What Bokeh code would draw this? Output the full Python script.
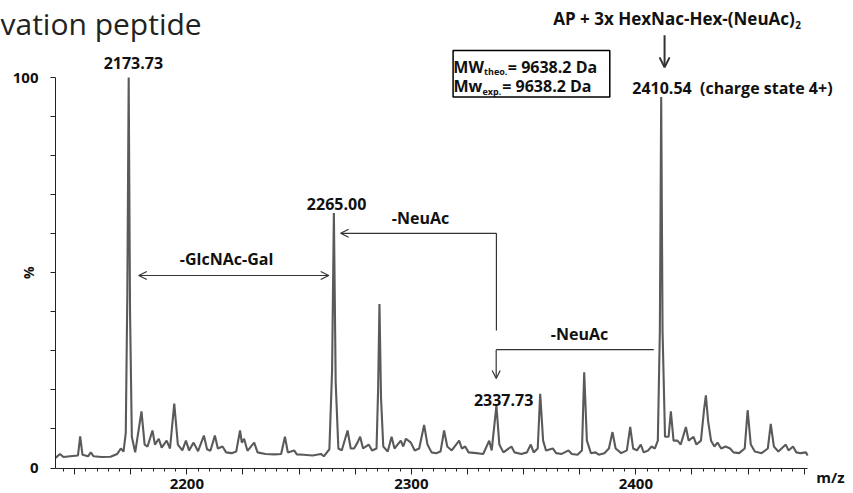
from bokeh.plotting import figure
from bokeh.models import (Range1d, FixedTicker, Arrow, OpenHead, BoxAnnotation,
                          ColumnDataSource)
from bokeh.core.properties import value
from bokeh.embed import file_html
from bokeh.resources import INLINE

# ---------------- data ----------------
mz = [
    2141.5, 2143.5, 2145.0, 2148.0, 2151.5, 2152.5, 2153.5, 2156.0, 2157.2, 2158.5,
    2162.0, 2166.0, 2169.0, 2170.6, 2171.8, 2172.8, 2173.5, 2174.1, 2174.7, 2175.5,
    2177.0, 2179.8, 2181.2, 2182.5, 2184.7, 2185.8, 2187.5, 2188.8, 2191.0, 2192.5,
    2194.4, 2196.0, 2198.0, 2199.6, 2201.0, 2203.0, 2205.0, 2207.6, 2209.0, 2210.5,
    2212.5, 2213.8, 2215.9, 2217.5, 2220.0, 2222.0, 2223.7, 2224.5, 2225.5, 2227.0,
    2230.0, 2231.5, 2235.0, 2239.0, 2242.0, 2243.7, 2245.0, 2247.8, 2249.0, 2252.0,
    2256.0, 2259.7, 2261.0, 2263.5, 2264.7, 2265.5, 2266.3, 2267.5, 2269.0, 2271.6,
    2273.0, 2274.5, 2276.0, 2277.2, 2278.5, 2281.0, 2282.5, 2284.5, 2285.2, 2285.8,
    2286.5, 2287.5, 2289.5, 2291.2, 2292.5, 2295.3, 2296.4, 2297.6, 2299.8, 2301.5,
    2303.5, 2305.7, 2307.2, 2309.0, 2311.0, 2313.0, 2314.6, 2316.0, 2318.0, 2321.3,
    2322.5, 2324.0, 2325.5, 2329.0, 2332.0, 2334.7, 2335.8, 2337.9, 2339.2, 2341.0,
    2344.6, 2346.0, 2349.0, 2351.5, 2353.2, 2354.5, 2356.3, 2357.4, 2358.7, 2360.0,
    2363.0, 2364.5, 2367.0, 2370.0, 2371.5, 2374.0, 2376.0, 2377.0, 2378.2, 2380.0,
    2382.0, 2383.5, 2386.0, 2388.0, 2389.6, 2391.0, 2393.5, 2396.0, 2397.5, 2398.8,
    2400.5, 2402.2, 2403.5, 2405.5, 2407.0, 2408.5, 2409.8, 2410.7, 2411.3, 2411.9,
    2413.0, 2414.6, 2415.6, 2416.8, 2418.6, 2420.0, 2422.3, 2423.5, 2425.7, 2427.0,
    2429.0, 2430.4, 2431.2, 2432.2, 2433.5, 2435.0, 2436.4, 2438.0, 2440.0, 2442.0,
    2443.5, 2446.0, 2448.5, 2449.8, 2451.2, 2453.0, 2456.0, 2458.8, 2460.1, 2461.5,
    2463.5, 2466.8, 2468.0, 2470.0, 2471.5, 2473.5, 2475.8, 2476.5,
]
intensity = [
    2.6, 3.6, 2.8, 3.0, 3.2, 8.1, 3.4, 3.0, 4.0, 3.0,
    2.8, 2.9, 3.6, 5.0, 4.2, 9.0, 45.0, 100.0, 40.0, 8.0,
    4.0, 14.5, 6.0, 5.5, 9.6, 6.0, 7.5, 5.2, 7.0, 5.0,
    16.5, 6.0, 4.5, 7.0, 4.5, 6.5, 4.3, 8.3, 4.8, 4.4,
    8.3, 5.0, 5.5, 4.0, 3.8, 4.2, 9.6, 6.5, 7.5, 4.4,
    6.5, 4.0, 3.6, 3.5, 3.6, 8.0, 4.0, 4.5, 3.5, 3.4,
    3.2, 3.6, 3.0, 4.8, 25.0, 65.3, 22.0, 5.0, 4.5, 9.6,
    5.0, 5.0, 6.5, 8.0, 5.0, 6.0, 4.5, 5.0, 20.0, 42.0,
    18.0, 5.5, 4.2, 8.0, 5.0, 7.0, 5.5, 7.5, 6.5, 4.5,
    5.0, 11.0, 6.0, 4.0, 3.8, 4.2, 9.6, 5.5, 4.5, 7.0,
    5.0, 5.5, 4.0, 3.8, 3.6, 7.0, 4.5, 16.0, 6.0, 4.0,
    5.5, 4.0, 3.6, 4.0, 6.0, 4.0, 5.0, 19.0, 7.0, 4.5,
    5.0, 3.8, 3.6, 4.5, 3.6, 3.4, 4.5, 24.5, 7.0, 3.8,
    4.0, 3.4, 3.8, 5.0, 9.2, 5.0, 3.8, 4.5, 10.5, 5.0,
    4.5, 6.0, 4.0, 4.5, 5.5, 5.0, 7.0, 35.0, 95.0, 35.0,
    8.0, 8.0, 14.5, 7.0, 7.0, 6.0, 10.5, 7.0, 8.0, 6.0,
    7.0, 15.0, 18.6, 12.0, 7.0, 5.5, 6.5, 5.0, 5.5, 5.0,
    4.0, 3.8, 5.0, 14.8, 6.0, 4.2, 3.8, 5.0, 11.3, 5.5,
    4.2, 6.0, 4.5, 5.5, 4.0, 3.8, 4.0, 3.2,
]

peak_labels = ["2173.73", "2265.00", "2337.73"]
peak_label_mz = [2176.2, 2266.7, 2341.1]
peak_label_int = [103.6, 67.7, 17.3]

x_major_ticks = list(range(2150, 2476, 25))
x_minor_ticks = list(range(2145, 2477, 5))
x_tick_labels = {2200: "2200", 2300: "2300", 2400: "2400"}
y_ticks = list(range(0, 101, 10))
y_tick_labels = {0: "0", 100: "100"}

FONT = "Open Sans"
INK = "#111111"

# ---------------- figure ----------------
# the frame fills the whole canvas; the axes are pinned inside it
p = figure(width=853, height=493, output_backend="svg", toolbar_location=None,
           x_range=Range1d(2141.5 - 55 / 2.245, 2141.5 + 798 / 2.245),
           y_range=Range1d(-25.5 / 3.905, 467.5 / 3.905),
           min_border=0, min_border_left=0, min_border_right=0,
           min_border_top=0, min_border_bottom=0)
p.outline_line_color = None
p.grid.visible = False
p.background_fill_color = "white"
p.border_fill_color = "white"

# spectrum
p.line(mz, intensity, line_color="#5a5a5a", line_width=2.1)

# axes
xa = p.xaxis[0]
xa.fixed_location = 0
xa.ticker = FixedTicker(ticks=x_major_ticks, minor_ticks=x_minor_ticks)
xa.major_label_overrides = {t: x_tick_labels.get(t, "") for t in x_major_ticks}
xa.bounds = (2141.5, 2476.5)
xa.axis_line_color = "#222222"
xa.major_tick_line_color = "#222222"
xa.minor_tick_line_color = "#222222"
xa.major_tick_in = 0
xa.major_tick_out = 6
xa.minor_tick_in = 0
xa.minor_tick_out = 3
xa.major_label_standoff = 5
xa.major_label_text_font = FONT
xa.major_label_text_font_style = "bold"
xa.major_label_text_font_size = "15px"
xa.major_label_text_color = INK

ya = p.yaxis[0]
ya.fixed_location = 2141.5
ya.ticker = FixedTicker(ticks=y_ticks, minor_ticks=[])
ya.major_label_overrides = {t: y_tick_labels.get(t, "") for t in y_ticks}
ya.bounds = (0, 100)
ya.axis_line_color = "#222222"
ya.major_tick_line_color = "#222222"
ya.major_tick_in = 0
ya.major_tick_out = 5
ya.major_label_standoff = 12
ya.major_label_text_font = FONT
ya.major_label_text_font_style = "bold"
ya.major_label_text_font_size = "15px"
ya.major_label_text_color = INK

# peak labels
src = ColumnDataSource(dict(x=peak_label_mz, y=peak_label_int, t=peak_labels))
p.text(x="x", y="y", text="t", source=src, text_font=value(FONT),
       text_font_style="bold", text_font_size="16px", text_align="center",
       text_baseline="middle", text_color=INK)

def txt(x, y, s, size="16px", align="left", style="bold", baseline="middle",
        angle=0.0, color=INK):
    p.text(x=[x], y=[y], text=[s], text_font=value(FONT), text_font_style=style,
           text_font_size=size, text_align=align, text_baseline=baseline,
           text_color=color, angle=angle)

txt(2398.4, 97.2, "2410.54\u00a0 (charge state 4+)")
txt(2470.8, 115.1, "AP + 3x HexNac-Hex-(NeuAc)", size="17px", align="right")
txt(2471.0, 113.4, "2", size="10px")
txt(2217.7, 53.4, "-GlcNAc-Gal", align="center")
txt(2304.1, 64.1, "-NeuAc", align="center")
txt(2374.9, 34.2, "-NeuAc", align="center")

# title fragment at the top-left (kept fully visible), the axis units
txt(2117.0, 113.8, "vation peptide", size="30px", style="normal",
    baseline="alphabetic", color="#222222")
txt(2486.7, -2.4, "m/z", size="15px", align="center")
txt(2129.5, 50.0, "%", size="14px", align="center", angle=1.5708)

# MW box
p.add_layout(BoxAnnotation(left=2318.6, right=2388.4, bottom=95.0, top=106.9,
                           fill_alpha=0, line_color="black", line_alpha=1.0,
                           line_width=1.5))
txt(2332.3, 102.8, "MW", align="right")
txt(2332.4, 101.6, "theo.", size="9px")
txt(2343.0, 102.8, "= 9638.2 Da")
txt(2331.6, 97.7, "Mw", align="right")
txt(2331.7, 96.5, "exp.", size="9px")
txt(2340.5, 97.7, "= 9638.2 Da")

# arrows
def arrow(x0, y0, x1, y1, head=True, lw=1.2, hs=8, hlw=1.2):
    p.add_layout(Arrow(x_start=x0, y_start=y0, x_end=x1, y_end=y1,
                       line_color="#333333", line_width=lw,
                       end=OpenHead(size=hs, line_width=hlw, line_color="#333333") if head else None))

arrow(2178.6, 49.3, 2263.2, 49.3)
arrow(2263.2, 49.3, 2178.6, 49.3)
arrow(2337.9, 60.1, 2268.5, 60.1)
arrow(2337.9, 60.1, 2337.9, 35.2, head=False)
arrow(2408.0, 30.3, 2337.8, 30.3, head=False)
arrow(2337.8, 30.3, 2337.8, 22.9)
arrow(2412.8, 110.8, 2412.8, 102.6, lw=2, hs=10, hlw=2)

open("out.html", "w").write(file_html(p, INLINE))
